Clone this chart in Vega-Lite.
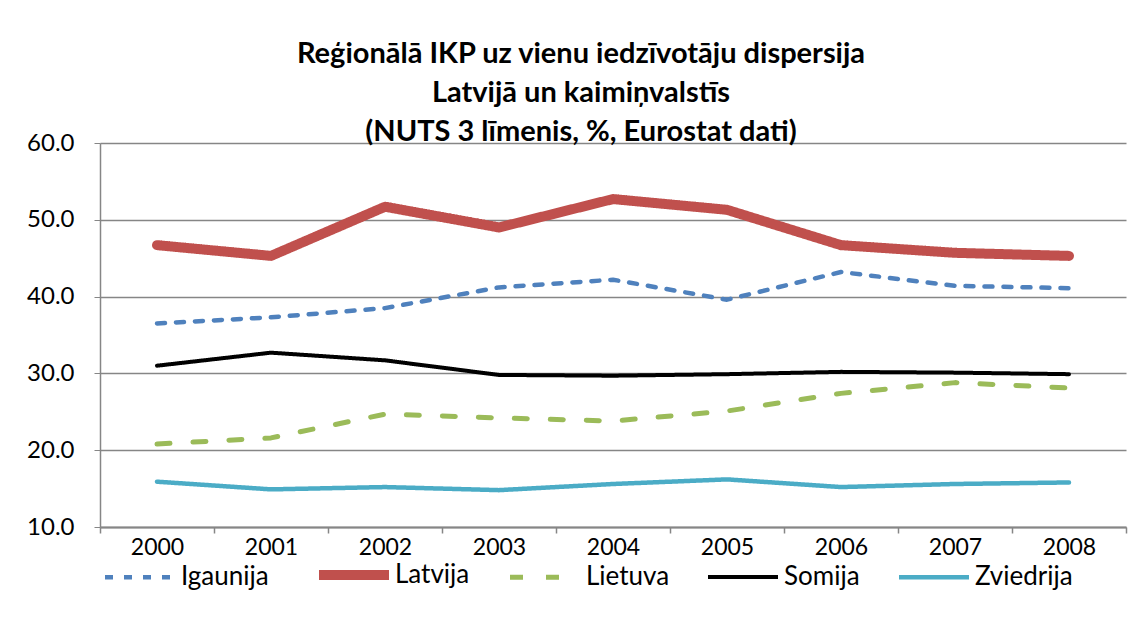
{
  "$schema": "https://vega.github.io/schema/vega-lite/v6.json",
  "autosize": "none",
  "width": 1026,
  "height": 384,
  "padding": {"left": 100, "top": 143, "right": 16, "bottom": 113},
  "background": "white",
  "config": {
    "font": "Lato, DejaVu Sans, sans-serif",
    "view": {"stroke": null}
  },
  "title": {
    "text": ["Reģionālā IKP uz vienu iedzīvotāju dispersija", "Latvijā un kaimiņvalstīs", "(NUTS 3 līmenis, %, Eurostat dati)"],
    "fontSize": 29,
    "fontWeight": "bold",
    "font": "Lato, DejaVu Sans, sans-serif",
    "color": "black",
    "anchor": "middle",
    "lineHeight": 39,
    "dx": -32,
    "offset": -16
  },
  "data": {
    "values": [
      {"year": "2000", "country": "Igaunija", "value": 36.5},
      {"year": "2001", "country": "Igaunija", "value": 37.3},
      {"year": "2002", "country": "Igaunija", "value": 38.5},
      {"year": "2003", "country": "Igaunija", "value": 41.2},
      {"year": "2004", "country": "Igaunija", "value": 42.2},
      {"year": "2005", "country": "Igaunija", "value": 39.6},
      {"year": "2006", "country": "Igaunija", "value": 43.2},
      {"year": "2007", "country": "Igaunija", "value": 41.4},
      {"year": "2008", "country": "Igaunija", "value": 41.1},
      {"year": "2000", "country": "Latvija", "value": 46.7},
      {"year": "2001", "country": "Latvija", "value": 45.3},
      {"year": "2002", "country": "Latvija", "value": 51.7},
      {"year": "2003", "country": "Latvija", "value": 49.0},
      {"year": "2004", "country": "Latvija", "value": 52.7},
      {"year": "2005", "country": "Latvija", "value": 51.3},
      {"year": "2006", "country": "Latvija", "value": 46.7},
      {"year": "2007", "country": "Latvija", "value": 45.7},
      {"year": "2008", "country": "Latvija", "value": 45.3},
      {"year": "2000", "country": "Lietuva", "value": 20.8},
      {"year": "2001", "country": "Lietuva", "value": 21.6},
      {"year": "2002", "country": "Lietuva", "value": 24.7},
      {"year": "2003", "country": "Lietuva", "value": 24.2},
      {"year": "2004", "country": "Lietuva", "value": 23.8},
      {"year": "2005", "country": "Lietuva", "value": 25.1},
      {"year": "2006", "country": "Lietuva", "value": 27.4},
      {"year": "2007", "country": "Lietuva", "value": 28.8},
      {"year": "2008", "country": "Lietuva", "value": 28.1},
      {"year": "2000", "country": "Somija", "value": 31.0},
      {"year": "2001", "country": "Somija", "value": 32.7},
      {"year": "2002", "country": "Somija", "value": 31.7},
      {"year": "2003", "country": "Somija", "value": 29.8},
      {"year": "2004", "country": "Somija", "value": 29.7},
      {"year": "2005", "country": "Somija", "value": 29.9},
      {"year": "2006", "country": "Somija", "value": 30.2},
      {"year": "2007", "country": "Somija", "value": 30.1},
      {"year": "2008", "country": "Somija", "value": 29.9},
      {"year": "2000", "country": "Zviedrija", "value": 15.9},
      {"year": "2001", "country": "Zviedrija", "value": 14.9},
      {"year": "2002", "country": "Zviedrija", "value": 15.2},
      {"year": "2003", "country": "Zviedrija", "value": 14.8},
      {"year": "2004", "country": "Zviedrija", "value": 15.6},
      {"year": "2005", "country": "Zviedrija", "value": 16.2},
      {"year": "2006", "country": "Zviedrija", "value": 15.2},
      {"year": "2007", "country": "Zviedrija", "value": 15.6},
      {"year": "2008", "country": "Zviedrija", "value": 15.8}
    ]
  },
  "mark": {"type": "line", "strokeCap": "round", "strokeJoin": "round"},
  "encoding": {
    "x": {
      "field": "year",
      "type": "ordinal",
      "bandPosition": 0.5,
      "scale": {"type": "band", "paddingInner": 0, "paddingOuter": 0},
      "axis": {
        "title": null,
        "labelAngle": 0,
        "labelFontSize": 23,
        "labelColor": "black",
        "labelPadding": 3,
        "tickBand": "extent",
        "tickSize": 6,
        "tickColor": "#868686",
        "tickWidth": 1.5,
        "domainColor": "#868686",
        "domainWidth": 2,
        "grid": false
      }
    },
    "y": {
      "field": "value",
      "type": "quantitative",
      "scale": {"domain": [10, 60], "nice": false, "zero": false},
      "axis": {
        "title": null,
        "values": [10, 20, 30, 40, 50, 60],
        "format": ".1f",
        "labelFontSize": 24,
        "labelColor": "black",
        "labelPadding": 20,
        "tickSize": 6,
        "tickColor": "#868686",
        "domainColor": "#868686",
        "domainWidth": 1.5,
        "gridColor": "#868686",
        "gridWidth": 1.5
      }
    },
    "color": {
      "field": "country",
      "type": "nominal",
      "scale": {
        "domain": ["Igaunija", "Latvija", "Lietuva", "Somija", "Zviedrija"],
        "range": ["#4F81BD", "#C0504D", "#9BBB59", "#000000", "#4BACC6"]
      },
      "legend": {
        "title": null,
        "orient": "bottom",
        "direction": "horizontal",
        "columns": 5,
        "symbolType": "stroke",
        "symbolSize": 4900,
        "labelFontSize": 26,
        "labelColor": "black",
        "labelOffset": 1,
        "columnPadding": 30,
        "offset": -24
      }
    },
    "strokeDash": {
      "field": "country",
      "type": "nominal",
      "scale": {
        "domain": ["Igaunija", "Latvija", "Lietuva", "Somija", "Zviedrija"],
        "range": [[8, 11], [1, 0], [13, 23], [1, 0], [1, 0]]
      },
      "legend": null
    },
    "strokeWidth": {
      "field": "country",
      "type": "nominal",
      "scale": {
        "type": "ordinal",
        "domain": ["Igaunija", "Latvija", "Lietuva", "Somija", "Zviedrija"],
        "range": [4.5, 10, 5, 4, 4.5]
      },
      "legend": null
    }
  }
}
